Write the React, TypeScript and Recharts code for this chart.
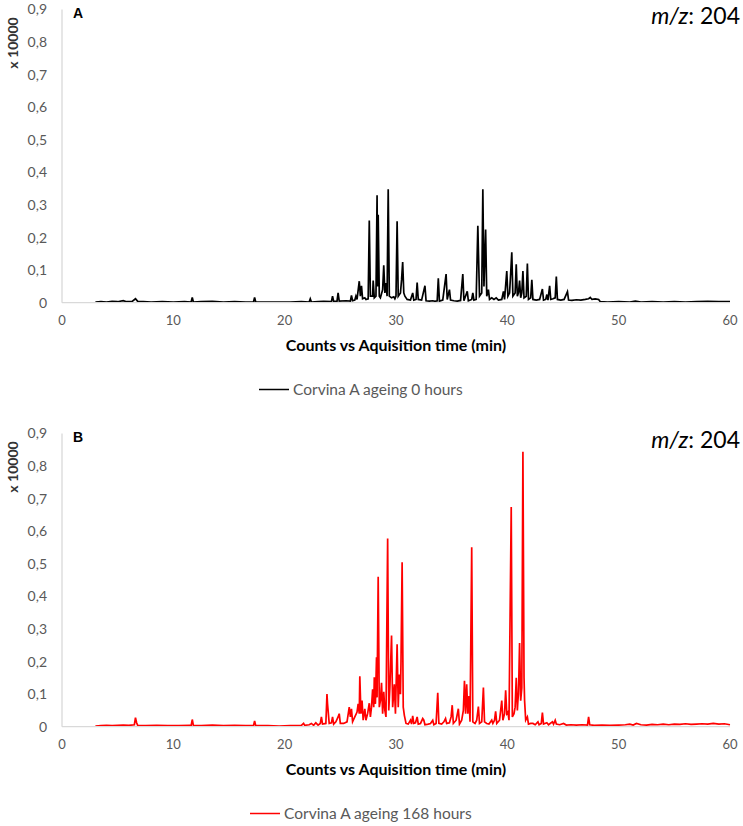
import React from 'react';
import { LineChart, Line, XAxis, YAxis } from 'recharts';

// Retention time (min), intensity (x 10000) — panel A: Corvina A ageing 0 hours
const traceA: [number, number][] = [
  [3.0, 0.002], [3.5, 0.003], [4.0, 0.002], [4.5, 0.004], [5.0, 0.003], [5.5, 0.006], [5.8, 0.003],
  [6.3, 0.004], [6.6, 0.012], [6.8, 0.004], [7.3, 0.003], [8.0, 0.002], [9.0, 0.003], [10.0, 0.002],
  [11.0, 0.003], [11.6, 0.002], [11.7, 0.016], [11.8, 0.002], [12.5, 0.003], [13.5, 0.004], [14.5, 0.002],
  [15.5, 0.003], [16.5, 0.002], [17.2, 0.002], [17.3, 0.016], [17.4, 0.002], [18.5, 0.002], [19.5, 0.002],
  [20.5, 0.002], [21.5, 0.003], [22.2, 0.002], [22.3, 0.012], [22.4, 0.002], [23.0, 0.003], [23.5, 0.004],
  [24.2, 0.003], [24.3, 0.02], [24.4, 0.004], [24.7, 0.004], [24.8, 0.03], [24.9, 0.005], [25.5, 0.006],
  [25.9, 0.005], [26.0, 0.022], [26.1, 0.006], [26.3, 0.008], [26.4, 0.02], [26.5, 0.01], [26.7, 0.066],
  [26.8, 0.02], [26.9, 0.052], [27.0, 0.012], [27.2, 0.015], [27.3, 0.01], [27.5, 0.012], [27.6, 0.252],
  [27.7, 0.02], [27.9, 0.02], [27.95, 0.068], [28.05, 0.015], [28.2, 0.02], [28.3, 0.33], [28.35, 0.05],
  [28.4, 0.27], [28.5, 0.02], [28.6, 0.015], [28.8, 0.04], [28.9, 0.115], [29.0, 0.03], [29.1, 0.06],
  [29.2, 0.02], [29.3, 0.348], [29.4, 0.02], [29.6, 0.015], [29.8, 0.018], [29.9, 0.012], [30.0, 0.02],
  [30.1, 0.25], [30.2, 0.02], [30.4, 0.03], [30.5, 0.07], [30.6, 0.125], [30.7, 0.03], [30.8, 0.02],
  [31.0, 0.01], [31.3, 0.008], [31.5, 0.03], [31.6, 0.008], [31.8, 0.01], [31.9, 0.062], [32.0, 0.01],
  [32.3, 0.008], [32.6, 0.052], [32.7, 0.006], [33.0, 0.005], [33.3, 0.006], [33.5, 0.004], [33.7, 0.006],
  [33.8, 0.075], [33.9, 0.005], [34.2, 0.008], [34.5, 0.088], [34.6, 0.01], [34.8, 0.04], [34.9, 0.008],
  [35.2, 0.006], [35.5, 0.005], [35.8, 0.007], [36.0, 0.088], [36.1, 0.006], [36.4, 0.035], [36.5, 0.006],
  [36.8, 0.01], [36.9, 0.03], [37.0, 0.008], [37.2, 0.01], [37.35, 0.236], [37.5, 0.02], [37.7, 0.03],
  [37.8, 0.348], [37.9, 0.05], [38.05, 0.225], [38.15, 0.02], [38.3, 0.04], [38.4, 0.01], [38.6, 0.015],
  [38.8, 0.01], [39.0, 0.015], [39.2, 0.008], [39.5, 0.01], [39.65, 0.035], [39.75, 0.01], [39.95, 0.097],
  [40.05, 0.02], [40.2, 0.03], [40.3, 0.09], [40.4, 0.155], [40.5, 0.02], [40.7, 0.03], [40.8, 0.118],
  [40.9, 0.02], [41.0, 0.03], [41.1, 0.068], [41.2, 0.015], [41.3, 0.03], [41.4, 0.097], [41.5, 0.015],
  [41.7, 0.02], [41.8, 0.12], [41.9, 0.01], [42.1, 0.015], [42.2, 0.07], [42.3, 0.01], [42.6, 0.008],
  [42.9, 0.01], [43.15, 0.042], [43.25, 0.008], [43.45, 0.01], [43.55, 0.025], [43.65, 0.008], [43.8, 0.052],
  [43.9, 0.01], [44.1, 0.012], [44.3, 0.015], [44.4, 0.08], [44.5, 0.01], [44.8, 0.008], [45.1, 0.01],
  [45.4, 0.034], [45.5, 0.008], [45.8, 0.007], [46.2, 0.009], [46.6, 0.008], [47.0, 0.01], [47.3, 0.012],
  [47.45, 0.016], [47.6, 0.01], [47.9, 0.012], [48.2, 0.01], [48.35, 0.003], [49.0, 0.002], [50.0, 0.003],
  [51.0, 0.002], [51.5, 0.005], [52.0, 0.002], [53.0, 0.003], [54.0, 0.002], [55.0, 0.003], [56.0, 0.002],
  [57.0, 0.003], [58.0, 0.004], [59.0, 0.003], [60.0, 0.003],
];

// Panel B: Corvina A ageing 168 hours
const traceB: [number, number][] = [
  [3.0, 0.002], [3.5, 0.003], [4.0, 0.004], [4.5, 0.003], [5.0, 0.004], [5.5, 0.005], [6.0, 0.004],
  [6.5, 0.006], [6.6, 0.028], [6.7, 0.012], [6.8, 0.004], [7.5, 0.003], [8.5, 0.004], [9.5, 0.003],
  [10.5, 0.003], [11.5, 0.004], [11.6, 0.003], [11.7, 0.022], [11.8, 0.004], [12.5, 0.003], [13.5, 0.005],
  [14.5, 0.003], [15.5, 0.004], [16.5, 0.003], [17.2, 0.003], [17.3, 0.018], [17.4, 0.003], [18.5, 0.003],
  [19.5, 0.002], [20.5, 0.003], [21.5, 0.004], [21.7, 0.01], [21.8, 0.004], [22.2, 0.006], [22.4, 0.01],
  [22.6, 0.004], [22.8, 0.012], [23.0, 0.005], [23.2, 0.01], [23.3, 0.03], [23.4, 0.008], [23.7, 0.01],
  [23.8, 0.1], [23.85, 0.07], [24.0, 0.01], [24.2, 0.012], [24.3, 0.03], [24.4, 0.008], [24.6, 0.015],
  [24.8, 0.03], [24.9, 0.04], [25.0, 0.01], [25.3, 0.01], [25.6, 0.015], [25.8, 0.06], [25.9, 0.03],
  [26.0, 0.055], [26.1, 0.015], [26.3, 0.03], [26.5, 0.045], [26.6, 0.07], [26.7, 0.04], [26.75, 0.155],
  [26.85, 0.04], [26.95, 0.08], [27.05, 0.02], [27.2, 0.055], [27.3, 0.02], [27.45, 0.04], [27.6, 0.072],
  [27.7, 0.03], [27.8, 0.06], [27.9, 0.115], [28.0, 0.06], [28.05, 0.152], [28.15, 0.07], [28.25, 0.213],
  [28.3, 0.09], [28.4, 0.46], [28.5, 0.06], [28.6, 0.08], [28.7, 0.135], [28.8, 0.04], [28.9, 0.107],
  [29.0, 0.05], [29.1, 0.03], [29.25, 0.578], [29.35, 0.05], [29.45, 0.12], [29.6, 0.28], [29.7, 0.06],
  [29.85, 0.13], [29.95, 0.04], [30.1, 0.253], [30.2, 0.06], [30.3, 0.16], [30.4, 0.1], [30.45, 0.2],
  [30.55, 0.505], [30.65, 0.06], [30.75, 0.035], [30.9, 0.01], [31.1, 0.008], [31.3, 0.02], [31.4, 0.008],
  [31.5, 0.033], [31.6, 0.01], [31.75, 0.012], [31.9, 0.03], [32.0, 0.008], [32.2, 0.01], [32.4, 0.025],
  [32.5, 0.02], [32.6, 0.006], [32.9, 0.008], [33.1, 0.01], [33.3, 0.02], [33.4, 0.006], [33.6, 0.01],
  [33.75, 0.104], [33.85, 0.01], [34.1, 0.008], [34.3, 0.015], [34.45, 0.025], [34.55, 0.01], [34.8, 0.012],
  [34.95, 0.03], [35.05, 0.066], [35.15, 0.01], [35.4, 0.02], [35.6, 0.055], [35.7, 0.008], [35.9, 0.02],
  [36.05, 0.05], [36.15, 0.141], [36.25, 0.04], [36.35, 0.13], [36.45, 0.04], [36.55, 0.094], [36.65, 0.015],
  [36.8, 0.551], [36.9, 0.015], [37.1, 0.01], [37.25, 0.02], [37.4, 0.062], [37.5, 0.01], [37.7, 0.015],
  [37.85, 0.12], [37.95, 0.015], [38.15, 0.01], [38.35, 0.008], [38.6, 0.02], [38.7, 0.01], [38.85, 0.02],
  [38.95, 0.047], [39.05, 0.01], [39.3, 0.02], [39.5, 0.08], [39.6, 0.02], [39.75, 0.04], [39.85, 0.112],
  [39.95, 0.04], [40.05, 0.045], [40.15, 0.02], [40.35, 0.674], [40.45, 0.03], [40.6, 0.04], [40.7, 0.06],
  [40.8, 0.15], [40.9, 0.05], [40.95, 0.08], [41.0, 0.1], [41.1, 0.257], [41.2, 0.08], [41.3, 0.12],
  [41.4, 0.844], [41.5, 0.15], [41.55, 0.08], [41.65, 0.02], [41.8, 0.03], [41.9, 0.008], [42.1, 0.01],
  [42.3, 0.01], [42.5, 0.006], [42.75, 0.015], [42.85, 0.006], [43.05, 0.01], [43.15, 0.043], [43.25, 0.008],
  [43.55, 0.012], [43.7, 0.006], [44.05, 0.015], [44.15, 0.008], [44.3, 0.02], [44.4, 0.008], [44.7, 0.006],
  [45.05, 0.01], [45.3, 0.005], [45.7, 0.006], [46.2, 0.005], [46.7, 0.006], [47.2, 0.005], [47.3, 0.03],
  [47.4, 0.006], [47.8, 0.004], [48.5, 0.005], [49.2, 0.004], [50.0, 0.005], [50.6, 0.006], [51.0, 0.008],
  [51.3, 0.005], [51.6, 0.01], [52.0, 0.006], [52.5, 0.005], [53.0, 0.007], [53.5, 0.006], [54.0, 0.008],
  [54.5, 0.006], [55.0, 0.008], [55.5, 0.007], [56.0, 0.009], [56.5, 0.007], [57.0, 0.008], [57.5, 0.009],
  [58.0, 0.008], [58.5, 0.01], [59.0, 0.008], [59.5, 0.009], [60.0, 0.006],
];

const xTicks = [0, 10, 20, 30, 40, 50, 60];
const yTicks = [0, 0.1, 0.2, 0.3, 0.4, 0.5, 0.6, 0.7, 0.8, 0.9];
const xTitle = 'Counts vs Aquisition time (min)';
const yTitle = 'x 10000';
const legendA = 'Corvina A ageing 0 hours';
const legendB = 'Corvina A ageing 168 hours';

const FONT = 'Lato, "Open Sans", sans-serif';

const fmtY = (v: number) => (v === 0 ? '0' : v.toFixed(1).replace('.', ','));

const YTitle = () => (
  <text
    x={12}
    y={43}
    transform="rotate(-90 12 43)"
    textAnchor="middle"
    dominantBaseline="central"
    fontFamily={FONT}
    fontWeight={700}
    fontSize={14}
    fill="#333"
  >
    {yTitle}
  </text>
);

type PanelProps = {
  top: number;
  trace: [number, number][];
  color: string;
  letter: string;
  legend: string;
  legendX: number;
};

const Panel = ({ top, trace, color, letter, legend, legendX }: PanelProps) => {
  const rows = trace.map(([t, v]) => ({ t, v }));
  return (
    <div style={{ position: 'absolute', left: 0, top, width: 743, height: 400 }}>
      <LineChart width={743} height={400} data={rows} margin={{ top: 9.5, right: 13, bottom: 37.3, left: 0 }}>
        <XAxis
          dataKey="t"
          type="number"
          domain={[0, 60]}
          ticks={xTicks}
          tickSize={0}
          tickMargin={13}
          height={60}
          axisLine={{ stroke: '#d9d9d9', strokeWidth: 1.3 }}
          tickLine={false}
          tick={{ fill: '#595959', fontSize: 13, fontFamily: FONT }}
          label={{
            value: xTitle,
            position: 'insideTop',
            offset: 37,
            fill: '#000',
            fontSize: 16,
            fontWeight: 700,
            fontFamily: FONT,
          }}
        />
        <YAxis
          type="number"
          domain={[0, 0.9]}
          ticks={yTicks}
          width={62}
          tickSize={0}
          tickMargin={15}
          axisLine={{ stroke: '#d9d9d9', strokeWidth: 1.3 }}
          tickLine={false}
          tick={{ fill: '#595959', fontSize: 14, fontFamily: FONT }}
          tickFormatter={fmtY}
          label={<YTitle />}
        />
        <Line
          type="linear"
          dataKey="v"
          stroke={color}
          strokeWidth={1.7}
          dot={false}
          activeDot={false}
          isAnimationActive={false}
        />
      </LineChart>
      <svg width={743} height={400} style={{ position: 'absolute', left: 0, top: 0, pointerEvents: 'none' }}>
        <text x={73} y={17.5} fontFamily='"Liberation Sans", Arial, sans-serif' fontWeight={700} fontSize={14} fill="#000">
          {letter}
        </text>
        <text x={740} y={23.5} textAnchor="end" fontFamily={FONT} fontSize={23} fill="#000">
          <tspan fontStyle="italic">m/z</tspan>
          <tspan>: 204</tspan>
        </text>
        <line x1={legendX} x2={legendX + 30} y1={389.5} y2={389.5} stroke={color} strokeWidth={1.5} />
        <text x={legendX + 34} y={395.3} fontFamily={FONT} fontSize={15.5} fill="#595959">
          {legend}
        </text>
      </svg>
    </div>
  );
};

export default function App() {
  return (
    <div style={{ position: 'absolute', left: 0, top: 0, width: 743, height: 826, background: '#fff', overflow: 'hidden' }}>
      <Panel top={0} trace={traceA} color="#000000" letter="A" legend={legendA} legendX={259} />
      <Panel top={424} trace={traceB} color="#ff0000" letter="B" legend={legendB} legendX={250} />
    </div>
  );
}
